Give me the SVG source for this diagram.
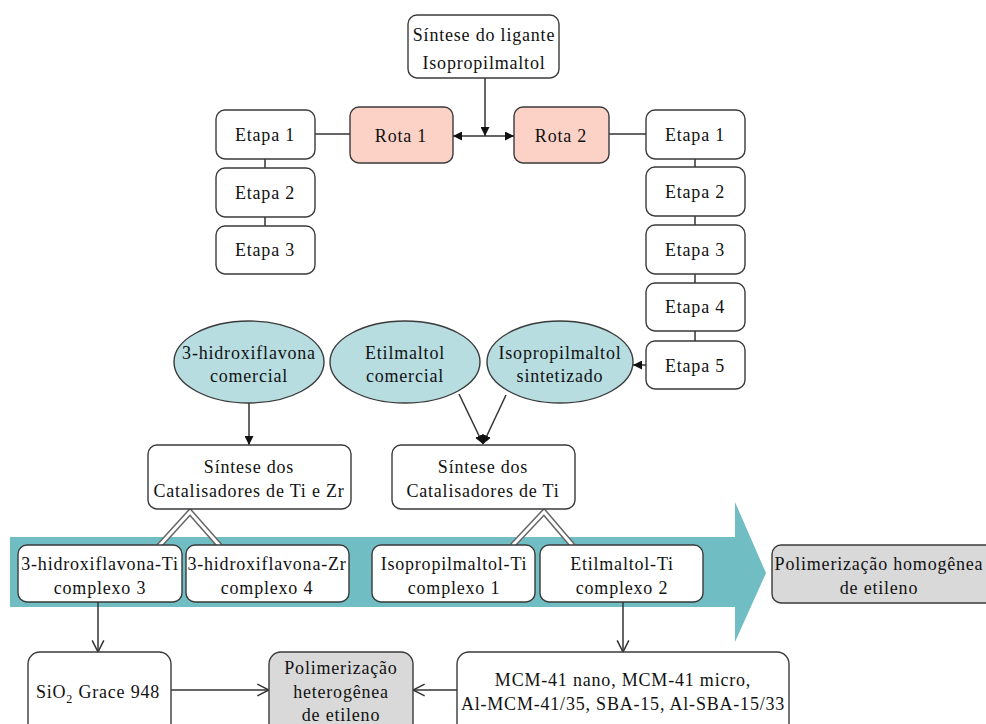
<svg xmlns="http://www.w3.org/2000/svg" width="986" height="724" viewBox="0 0 986 724">
<defs>
<style>
.box{fill:#fff;stroke:#3a3a3a;stroke-width:1.4}
.rota{fill:#fdd2c6;stroke:#3a3a3a;stroke-width:1.4}
.ell{fill:#b7dde1;stroke:#3a3a3a;stroke-width:1.4}
.gray{fill:#d9d9d9;stroke:#3a3a3a;stroke-width:1.4}
.t{font-family:"Liberation Serif","Times New Roman",serif;font-size:18px;fill:#111;text-anchor:middle;letter-spacing:0.8px}
.ln{fill:none;stroke:#333;stroke-width:1.5}
.dblo{fill:none;stroke:#666;stroke-width:6}
.dbli{fill:none;stroke:#fff;stroke-width:3}
</style>
<marker id="fa" viewBox="0 0 10 10" refX="10" refY="5" markerWidth="9" markerHeight="9" markerUnits="userSpaceOnUse" orient="auto">
<path d="M0,0 L10,5 L0,10 z" fill="#111"/>
</marker>
<marker id="oa" viewBox="0 0 12 12" refX="11" refY="6" markerWidth="14" markerHeight="14" markerUnits="userSpaceOnUse" orient="auto">
<path d="M1,1 L11,6 L1,11" fill="none" stroke="#333" stroke-width="1.3"/>
</marker>
</defs>
<rect width="986" height="724" fill="#fff"/>

<!-- big arrow band -->
<g id="band">
<path d="M10,537 L735,537 L735,502 L766,573 L735,642 L735,607 L10,607 z" fill="#70bec3"/>
</g>

<!-- connectors -->
<g id="connectors">
<line class="ln" x1="315" y1="134" x2="350" y2="134"/>
<line class="ln" x1="609" y1="134" x2="646" y2="134"/>
<line class="ln" x1="265" y1="159" x2="265" y2="168"/>
<line class="ln" x1="265" y1="217" x2="265" y2="226"/>
<line class="ln" x1="695" y1="159" x2="695" y2="167"/>
<line class="ln" x1="695" y1="216" x2="695" y2="225"/>
<line class="ln" x1="695" y1="274" x2="695" y2="283"/>
<line class="ln" x1="695" y1="331" x2="695" y2="341"/>
<line class="ln" x1="485" y1="136" x2="453" y2="136" marker-end="url(#fa)"/>
<line class="ln" x1="485" y1="136" x2="514" y2="136" marker-end="url(#fa)"/>
<line class="ln" x1="485" y1="78" x2="485" y2="136" marker-end="url(#fa)"/>
<line class="ln" x1="646" y1="365" x2="633" y2="365" marker-end="url(#fa)"/>
<line class="ln" x1="249" y1="403" x2="249" y2="445" marker-end="url(#fa)"/>
<line class="ln" x1="459" y1="394" x2="483" y2="444" marker-end="url(#fa)"/>
<line class="ln" x1="506" y1="395" x2="483" y2="444" marker-end="url(#fa)"/>
<path class="dblo" d="M159,546 L190,512 L220,546"/>
<path class="dbli" d="M159,546 L190,512 L220,546"/>
<path class="dblo" d="M512,546 L544,512 L573,546"/>
<path class="dbli" d="M512,546 L544,512 L573,546"/>
<line class="ln" x1="98" y1="602" x2="98" y2="652" marker-end="url(#oa)"/>
<line class="ln" x1="623" y1="602" x2="623" y2="652" marker-end="url(#oa)"/>
<line class="ln" x1="171" y1="690" x2="269" y2="690" marker-end="url(#oa)"/>
<line class="ln" x1="457" y1="690" x2="413" y2="690" marker-end="url(#oa)"/>
</g>

<g id="sintese-ligante">
<rect class="box" x="408" y="15" width="151" height="63" rx="9"/>
<text class="t" x="484" y="41">Síntese do ligante</text>
<text class="t" x="484" y="69">Isopropilmaltol</text>
</g>
<g id="rota1">
<rect class="rota" x="350" y="107" width="103" height="56" rx="9"/>
<text class="t" x="401" y="142">Rota 1</text>
</g>
<g id="rota2">
<rect class="rota" x="514" y="107" width="95" height="56" rx="9"/>
<text class="t" x="561" y="142">Rota 2</text>
</g>

<g id="l-etapa1"><rect class="box" x="216" y="110" width="99" height="49" rx="9"/><text class="t" x="265" y="141">Etapa 1</text></g>
<g id="l-etapa2"><rect class="box" x="216" y="168" width="99" height="49" rx="9"/><text class="t" x="265" y="199">Etapa 2</text></g>
<g id="l-etapa3"><rect class="box" x="216" y="226" width="99" height="48" rx="9"/><text class="t" x="265" y="256">Etapa 3</text></g>

<g id="r-etapa1"><rect class="box" x="646" y="110" width="99" height="49" rx="9"/><text class="t" x="695" y="141">Etapa 1</text></g>
<g id="r-etapa2"><rect class="box" x="646" y="167" width="99" height="49" rx="9"/><text class="t" x="695" y="198">Etapa 2</text></g>
<g id="r-etapa3"><rect class="box" x="646" y="225" width="99" height="49" rx="9"/><text class="t" x="695" y="256">Etapa 3</text></g>
<g id="r-etapa4"><rect class="box" x="646" y="283" width="99" height="48" rx="9"/><text class="t" x="695" y="313">Etapa 4</text></g>
<g id="r-etapa5"><rect class="box" x="646" y="341" width="99" height="48" rx="9"/><text class="t" x="695" y="372">Etapa 5</text></g>

<g id="ell-hidroxiflavona">
<ellipse class="ell" cx="249" cy="362" rx="75" ry="41"/>
<text class="t" x="249" y="359">3-hidroxiflavona</text>
<text class="t" x="249" y="382">comercial</text>
</g>
<g id="ell-etilmaltol">
<ellipse class="ell" cx="405" cy="362" rx="75" ry="41"/>
<text class="t" x="405" y="359">Etilmaltol</text>
<text class="t" x="405" y="382">comercial</text>
</g>
<g id="ell-isopropilmaltol">
<ellipse class="ell" cx="560" cy="362" rx="73" ry="41"/>
<text class="t" x="560" y="359">Isopropilmaltol</text>
<text class="t" x="560" y="382">sintetizado</text>
</g>

<g id="sintese-tizr">
<rect class="box" x="148" y="445" width="203" height="64" rx="9"/>
<text class="t" x="249" y="473">Síntese dos</text>
<text class="t" x="249" y="497">Catalisadores de Ti  e Zr</text>
</g>
<g id="sintese-ti">
<rect class="box" x="392" y="445" width="183" height="64" rx="9"/>
<text class="t" x="483" y="473">Síntese dos</text>
<text class="t" x="483" y="497">Catalisadores de Ti</text>
</g>

<g id="complexo3">
<rect class="box" x="18" y="545" width="164" height="57" rx="9"/>
<text class="t" x="100" y="570">3-hidroxiflavona-Ti</text>
<text class="t" x="100" y="594">complexo 3</text>
</g>
<g id="complexo4">
<rect class="box" x="186" y="545" width="163" height="57" rx="9"/>
<text class="t" x="267" y="570">3-hidroxiflavona-Zr</text>
<text class="t" x="267" y="594">complexo 4</text>
</g>
<g id="complexo1">
<rect class="box" x="372" y="545" width="163" height="57" rx="9"/>
<text class="t" x="454" y="570">Isopropilmaltol-Ti</text>
<text class="t" x="454" y="594">complexo 1</text>
</g>
<g id="complexo2">
<rect class="box" x="540" y="545" width="163" height="57" rx="9"/>
<text class="t" x="622" y="570">Etilmaltol-Ti</text>
<text class="t" x="622" y="594">complexo 2</text>
</g>

<g id="pol-homogenea">
<rect class="gray" x="772" y="545" width="222" height="58" rx="9"/>
<text class="t" x="879" y="570">Polimerização homogênea</text>
<text class="t" x="879" y="594">de etileno</text>
</g>

<g id="sio2">
<rect class="box" x="28" y="652" width="143" height="90" rx="12"/>
<text class="t" x="98" y="698">SiO<tspan font-size="12" dy="5">2</tspan><tspan dy="-5"> Grace 948</tspan></text>
</g>
<g id="pol-heterogenea">
<rect class="gray" x="269" y="652" width="144" height="90" rx="12"/>
<text class="t" x="341" y="674">Polimerização</text>
<text class="t" x="341" y="698">heterogênea</text>
<text class="t" x="341" y="721">de etileno</text>
</g>
<g id="suportes">
<rect class="box" x="457" y="652" width="332" height="90" rx="12"/>
<text class="t" x="623" y="686">MCM-41 nano, MCM-41 micro,</text>
<text class="t" x="623" y="710">Al-MCM-41/35, SBA-15,  Al-SBA-15/33</text>
</g>
</svg>
